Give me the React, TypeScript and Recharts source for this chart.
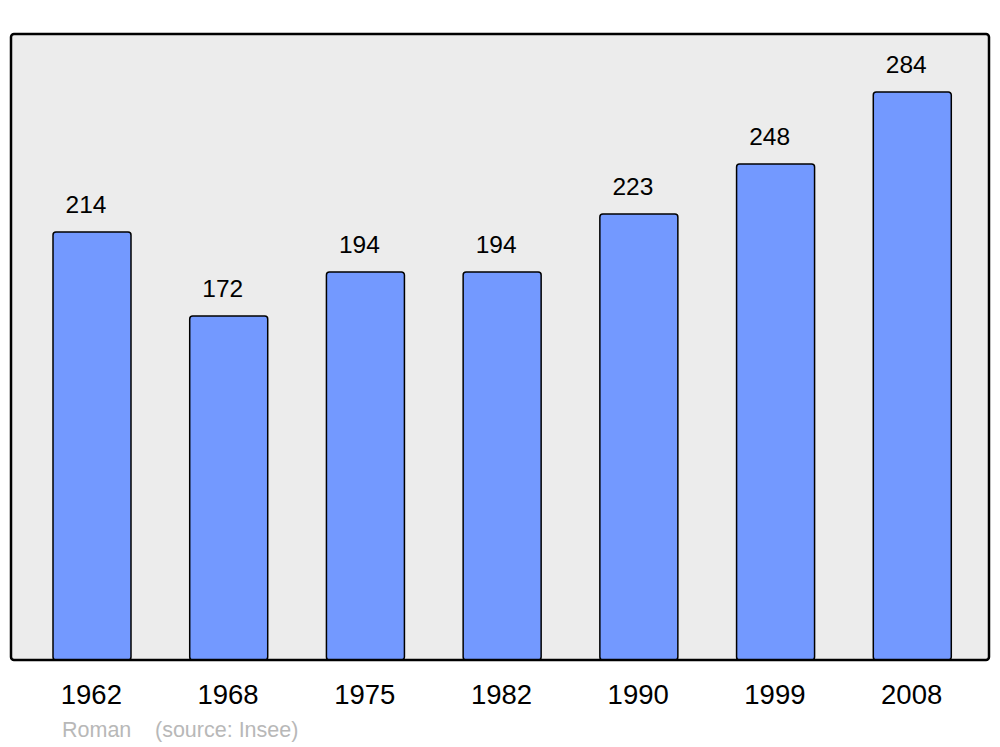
import { BarChart, Bar, XAxis, YAxis, CartesianGrid, LabelList } from "recharts";

const years = ["1962", "1968", "1975", "1982", "1990", "1999", "2008"];
const population = [214, 172, 194, 194, 223, 248, 284];
const footerLeft = "Roman";
const footerRight = "(source: Insee)";

const data = years.map((year, i) => ({ year, value: population[i] }));

const FONT = "'Liberation Sans', Arial, sans-serif";

function YearTick(props: any) {
  const { x, y, payload } = props;
  return (
    <text x={x - 1} y={y} dy={44} textAnchor="middle" fontSize={27.5} fontFamily={FONT} fill="#000">
      {payload.value}
    </text>
  );
}

function ValueLabel(props: any) {
  const { x, y, width, value } = props;
  return (
    <text x={x + width / 2 - 6} y={y - 19} textAnchor="middle" fontSize={24.5} fontFamily={FONT} fill="#000">
      {value}
    </text>
  );
}

export default function App() {
  return (
    <div style={{ position: "absolute", left: 0, top: 0, width: 1000, height: 747, background: "#fff" }}>
      <svg width={1000} height={747} style={{ position: "absolute", left: 0, top: 0 }}>
        <rect x={11} y={34} width={978} height={626} rx={3} fill="#ececec" />
      </svg>
      <div style={{ position: "absolute", left: 0, top: 0 }}>
        <BarChart width={1000} height={747} data={data} margin={{ top: 34, right: 11, bottom: 27, left: 11 }}>
          <CartesianGrid horizontal={false} vertical={false} />
          <XAxis
            dataKey="year"
            axisLine={false}
            tickLine={false}
            tickSize={0}
            tickMargin={0}
            height={60}
            interval={0}
            padding={{ left: 13, right: 8 }}
            tick={<YearTick />}
          />
          <YAxis hide domain={[0, 313]} />
          <Bar
            dataKey="value"
            barSize={78}
            fill="#7399ff"
            stroke="#000"
            strokeWidth={1.5}
            radius={[3, 3, 3, 3]}
            isAnimationActive={false}
          >
            <LabelList dataKey="value" content={<ValueLabel />} />
          </Bar>
        </BarChart>
      </div>
      <svg width={1000} height={747} style={{ position: "absolute", left: 0, top: 0, pointerEvents: "none" }}>
        <rect x={11} y={34} width={978} height={626} rx={3} fill="none" stroke="#000" strokeWidth={2.5} />
        <text x={62} y={737} fontSize={21.5} fontFamily={FONT} fill="#b8b8b8">
          {footerLeft}
        </text>
        <text x={155} y={737} fontSize={21.5} fontFamily={FONT} fill="#b8b8b8">
          {footerRight}
        </text>
      </svg>
    </div>
  );
}
